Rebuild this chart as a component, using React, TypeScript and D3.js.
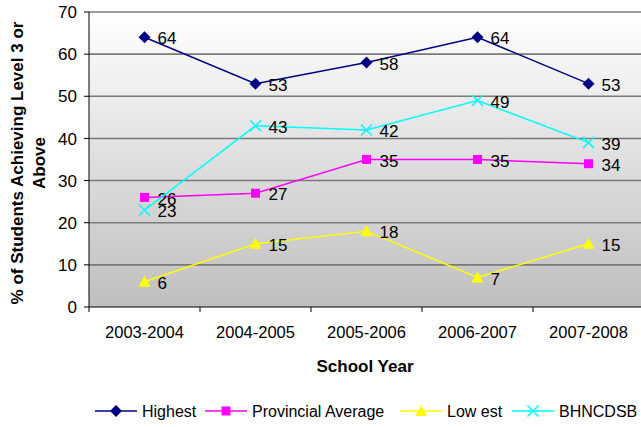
import React from "react";
import * as d3 from "d3";

const years = ["2003-2004", "2004-2005", "2005-2006", "2006-2007", "2007-2008"];
const highest = [64, 53, 58, 64, 53];
const provincial = [26, 27, 35, 35, 34];
const lowest = [6, 15, 18, 7, 15];
const bhncdsb = [23, 43, 42, 49, 39];
const yTicks = [0, 10, 20, 30, 40, 50, 60, 70];

const series = [
  { name: "Highest", values: highest, color: "#000080", shape: "diamond" },
  { name: "Provincial Average", values: provincial, color: "#FF00FF", shape: "square" },
  { name: "Low est", values: lowest, color: "#FFFF00", shape: "triangle" },
  { name: "BHNCDSB", values: bhncdsb, color: "#00FFFF", shape: "x" },
];

const W = 641, H = 427;
const margin = { top: 12, right: -3, bottom: 120, left: 89 };
const font = "Liberation Sans, Arial, sans-serif";

const Marker = ({ shape, color, x, y }) => {
  if (shape === "diamond") {
    const s = 6;
    return <path d={`M${x},${y - s}L${x + s},${y}L${x},${y + s}L${x - s},${y}Z`} fill={color} />;
  }
  if (shape === "square") {
    return <rect x={x - 4.5} y={y - 4.5} width={9} height={9} fill={color} />;
  }
  if (shape === "triangle") {
    return <path d={`M${x},${y - 6}L${x + 6},${y + 5}L${x - 6},${y + 5}Z`} fill={color} />;
  }
  const s = 5.5;
  return (
    <path d={`M${x - s},${y - s}L${x + s},${y + s}M${x + s},${y - s}L${x - s},${y + s}`}
      stroke={color} strokeWidth={1.5} fill="none" />
  );
};

export default function App() {
  const x = d3.scaleBand()
    .domain(years)
    .range([margin.left, W - margin.right]);
  const y = d3.scaleLinear()
    .domain([0, 70])
    .range([H - margin.bottom, margin.top]);

  const line = d3.line<number>()
    .x((_, i) => x(years[i]) + x.bandwidth() / 2)
    .y(d => y(d));

  const bottom = y(0);
  const legendX = [95, 205, 400, 512];

  return (
    <svg width={W} height={H} style={{ position: "absolute", left: 0, top: 0, fontFamily: font }}>
      <defs>
        <linearGradient id="bg" x1="0" y1="0" x2="0" y2="1">
          <stop offset="0%" stopColor="#ffffff" />
          <stop offset="100%" stopColor="#bfbfbf" />
        </linearGradient>
      </defs>
      <rect x={margin.left} y={margin.top} width={W - margin.left - margin.right}
        height={bottom - margin.top} fill="url(#bg)" />

      {/* gridlines */}
      {yTicks.filter(t => t > 0).map(t => (
        <line key={t} x1={margin.left} x2={W} y1={y(t)} y2={y(t)} stroke="#7a7a7a" strokeWidth={1.6} />
      ))}

      {/* axes */}
      <line x1={margin.left} x2={margin.left} y1={margin.top} y2={bottom + 5} stroke="#000" />
      <line x1={margin.left} x2={W} y1={bottom} y2={bottom} stroke="#000" />
      {yTicks.map(t => (
        <g key={t}>
          <line x1={margin.left - 5} x2={margin.left} y1={y(t)} y2={y(t)} stroke="#000" />
          <text x={margin.left - 12} y={y(t)} dy="0.36em" textAnchor="end" fontSize={17}>{t}</text>
        </g>
      ))}
      {years.map(yr => (
        <g key={yr}>
          <line x1={x(yr) + x.bandwidth()} x2={x(yr) + x.bandwidth()} y1={bottom} y2={bottom + 5} stroke="#000" />
          <text x={x(yr) + x.bandwidth() / 2} y={bottom + 31} textAnchor="middle" fontSize={16.5}>{yr}</text>
        </g>
      ))}

      <text x={365} y={372} textAnchor="middle" fontSize={17} fontWeight="bold">School Year</text>
      <g transform="translate(23,163) rotate(-90)">
        <text x={0} y={0} textAnchor="middle" fontSize={17} fontWeight="bold">% of Students Achieving Level 3 or</text>
        <text x={0} y={22} textAnchor="middle" fontSize={17} fontWeight="bold">Above</text>
      </g>

      {/* series */}
      {series.map(s => (
        <g key={s.name}>
          <path d={line(s.values)} fill="none" stroke={s.color} strokeWidth={1.5} />
          {s.values.map((v, i) => {
            const cx = x(years[i]) + x.bandwidth() / 2;
            return (
              <g key={i}>
                <Marker shape={s.shape} color={s.color} x={cx} y={y(v)} />
                <text x={cx + 13} y={y(v) + 1} dy="0.36em" fontSize={17}>{v}</text>
              </g>
            );
          })}
        </g>
      ))}

      {/* legend */}
      {series.map((s, i) => (
        <g key={s.name} transform={`translate(${legendX[i]},411)`}>
          <line x1={0} x2={42} y1={0} y2={0} stroke={s.color} strokeWidth={1.5} />
          <Marker shape={s.shape} color={s.color} x={21} y={0} />
          <text x={47} y={0} dy="0.36em" fontSize={16}>{s.name}</text>
        </g>
      ))}
    </svg>
  );
}
